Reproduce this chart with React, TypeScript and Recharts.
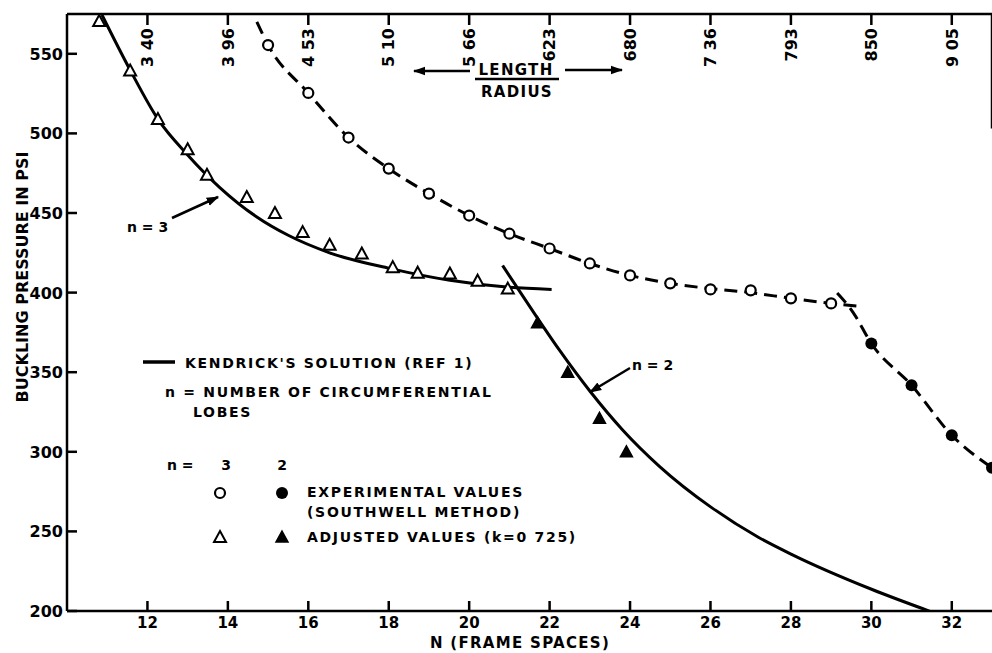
import React from 'react';
import { ComposedChart, Line, Scatter, XAxis, YAxis, ReferenceLine } from 'recharts';

const xTicks = [12, 14, 16, 18, 20, 22, 24, 26, 28, 30, 32];
const yTicks = [200, 250, 300, 350, 400, 450, 500, 550];
const lengthRadiusLabels = ['3 40', '3 96', '4 53', '5 10', '5 66', '623', '680', '7 36', '793', '850', '9 05'];

// Kendrick's solution, n = 3 (solid)
const kendrickN3 = [
  { x: 10.87, y: 574.4 }, { x: 11.57, y: 539.8 }, { x: 12.26, y: 509 }, { x: 13.0, y: 486.5 },
  { x: 13.8, y: 466 }, { x: 14.72, y: 447.5 }, { x: 15.5, y: 436 }, { x: 16.53, y: 425 },
  { x: 18.02, y: 415.2 }, { x: 19.52, y: 407.7 }, { x: 21.0, y: 403.3 }, { x: 22.05, y: 402 },
];
// Kendrick's solution, n = 2 (solid)
const kendrickN2 = [
  { x: 20.83, y: 417 }, { x: 21.5, y: 391.5 }, { x: 22.25, y: 363.7 }, { x: 23.0, y: 338.2 },
  { x: 23.81, y: 313.9 }, { x: 24.73, y: 290.9 }, { x: 26.02, y: 265.1 }, { x: 27.2, y: 246.2 },
  { x: 28.04, y: 235.3 }, { x: 30.02, y: 213.5 }, { x: 31.49, y: 199.5 },
];
// Experimental values n = 3 (open circles) and dashed fit
const expN3Points = [
  { x: 15, y: 555.5 }, { x: 16, y: 525.4 }, { x: 17, y: 497.4 }, { x: 18, y: 477.9 },
  { x: 19, y: 462.2 }, { x: 20, y: 448.4 }, { x: 21, y: 437 }, { x: 22, y: 427.7 },
  { x: 23, y: 418.3 }, { x: 24, y: 410.8 }, { x: 25, y: 405.8 }, { x: 26, y: 402 },
  { x: 27, y: 401.4 }, { x: 28, y: 396.4 }, { x: 29, y: 393.2 },
];
const expN3Line = [
  { x: 14.72, y: 570 }, { x: 15, y: 555.5 }, { x: 16, y: 525.4 }, { x: 17, y: 497.4 },
  { x: 18, y: 477.9 }, { x: 19, y: 462.2 }, { x: 20, y: 448.4 }, { x: 21, y: 437 },
  { x: 22, y: 427.7 }, { x: 23, y: 418.3 }, { x: 24, y: 410.8 }, { x: 25, y: 405.8 },
  { x: 26, y: 402.5 }, { x: 27, y: 400 }, { x: 28, y: 396.4 }, { x: 29, y: 393.2 },
  { x: 29.64, y: 391.6 },
];
// Experimental values n = 2 (filled circles) and dashed fit
const expN2Points = [
  { x: 30, y: 368 }, { x: 31, y: 341.8 }, { x: 32, y: 310.4 }, { x: 33, y: 290 },
];
const expN2Line = [
  { x: 29.15, y: 399.7 }, { x: 29.54, y: 387.8 }, { x: 30, y: 368 }, { x: 31, y: 341.8 },
  { x: 32, y: 310.4 }, { x: 33, y: 290 },
];
// Adjusted values (k = 0.725)
const adjN3 = [
  { x: 10.8, y: 570.6 }, { x: 11.57, y: 539.5 }, { x: 12.26, y: 509 }, { x: 13.0, y: 490 },
  { x: 13.48, y: 474 }, { x: 14.47, y: 460 }, { x: 15.17, y: 450 }, { x: 15.86, y: 438 },
  { x: 16.53, y: 430 }, { x: 17.33, y: 424.5 }, { x: 18.1, y: 416 }, { x: 18.72, y: 412.5 },
  { x: 19.52, y: 412 }, { x: 20.21, y: 407.5 }, { x: 20.96, y: 402.5 },
];
const adjN2 = [
  { x: 21.7, y: 381 }, { x: 22.45, y: 350 }, { x: 23.24, y: 321 }, { x: 23.91, y: 300 },
];
const rightBorder = [{ x: 33, y: 575 }, { x: 33, y: 503 }];

const FONT = '"DejaVu Sans", Verdana, sans-serif';
const INK = '#000';

const LeftTick = (p: any) => (
  <g>
    <line x1={p.x} y1={p.y} x2={p.x + 10} y2={p.y} stroke={INK} strokeWidth={2.5} />
    <text x={p.x - 4} y={p.y} dy={6} textAnchor="end" fontFamily={FONT} fontWeight="bold" fontSize={16} fill={INK}>
      {p.payload.value}
    </text>
  </g>
);

const BottomTick = (p: any) => (
  <g>
    <line x1={p.x} y1={p.y} x2={p.x} y2={p.y - 10} stroke={INK} strokeWidth={2.5} />
    <text x={p.x} y={p.y + 17} textAnchor="middle" fontFamily={FONT} fontWeight="bold" fontSize={15} fill={INK}>
      {p.payload.value}
    </text>
  </g>
);

const TopTick = (p: any) => {
  const label = lengthRadiusLabels[xTicks.indexOf(p.payload.value)];
  const ay = p.y + 14;
  return (
    <g>
      <line x1={p.x} y1={p.y} x2={p.x} y2={p.y + 11} stroke={INK} strokeWidth={2.5} />
      <text x={p.x} y={ay} dy="0.36em" transform={`rotate(-90 ${p.x} ${ay})`} textAnchor="end"
        fontFamily={FONT} fontWeight="bold" fontSize={16} fill={INK}>
        {label}
      </text>
    </g>
  );
};

const OpenCircle = (p: any) => <circle cx={p.cx} cy={p.cy} r={5} fill="#fff" stroke={INK} strokeWidth={2.2} />;
const FilledCircle = (p: any) => <circle cx={p.cx} cy={p.cy} r={6} fill={INK} />;
const triPath = (cx: number, cy: number) => `M${cx},${cy - 6} L${cx + 6},${cy + 5} L${cx - 6},${cy + 5} Z`;
const OpenTri = (p: any) => <path d={triPath(p.cx, p.cy)} fill="#fff" stroke={INK} strokeWidth={2} />;
const FilledTri = (p: any) => <path d={triPath(p.cx, p.cy)} fill={INK} stroke={INK} strokeWidth={1.5} />;

const txt = { fontFamily: FONT, fontWeight: 'bold' as const, fill: INK };

export default function App() {
  return (
    <div style={{ position: 'relative', width: 992, height: 653, overflow: 'hidden', background: '#fff' }}>
      <style>{'body{margin:0;background:#fff;}'}</style>
      <ComposedChart width={992} height={653} margin={{ top: 0, right: 0, bottom: 0, left: 0 }}>
        <XAxis xAxisId={0} dataKey="x" type="number" domain={[10, 33]} allowDataOverflow ticks={xTicks} interval={0}
          orientation="bottom" height={42} tickSize={0} tickMargin={0} tick={<BottomTick />}
          axisLine={{ stroke: INK, strokeWidth: 2.5 }} tickLine={false} />
        <XAxis xAxisId="lr" dataKey="x" type="number" domain={[10, 33]} allowDataOverflow ticks={xTicks} interval={0}
          orientation="top" height={14} tickSize={0} tickMargin={0} tick={<TopTick />}
          axisLine={{ stroke: INK, strokeWidth: 2.5 }} tickLine={false} />
        <YAxis dataKey="y" type="number" domain={[200, 575]} allowDataOverflow ticks={yTicks} interval={0}
          width={67} tickSize={0} tickMargin={0} tick={<LeftTick />}
          axisLine={{ stroke: INK, strokeWidth: 2.5 }} tickLine={false} />
        <ReferenceLine segment={rightBorder} stroke={INK} strokeWidth={2.5} ifOverflow="visible" />

        <Line data={kendrickN3} dataKey="y" type="monotone" stroke={INK} strokeWidth={3} dot={false} activeDot={false} isAnimationActive={false} />
        <Line data={kendrickN2} dataKey="y" type="monotone" stroke={INK} strokeWidth={3} dot={false} activeDot={false} isAnimationActive={false} />
        <Line data={expN3Line} dataKey="y" type="monotone" stroke={INK} strokeWidth={3} strokeDasharray="13 7" dot={false} activeDot={false} isAnimationActive={false} />
        <Line data={expN2Line} dataKey="y" type="monotone" stroke={INK} strokeWidth={3} strokeDasharray="13 7" dot={false} activeDot={false} isAnimationActive={false} />

        <Scatter data={adjN3} dataKey="y" shape={<OpenTri />} isAnimationActive={false} />
        <Scatter data={adjN2} dataKey="y" shape={<FilledTri />} isAnimationActive={false} />
        <Scatter data={expN3Points} dataKey="y" shape={<OpenCircle />} isAnimationActive={false} />
        <Scatter data={expN2Points} dataKey="y" shape={<FilledCircle />} isAnimationActive={false} />
      </ComposedChart>

      <svg width={992} height={653} style={{ position: 'absolute', left: 0, top: 0, pointerEvents: 'none' }}>
        <defs>
          <marker id="ah" viewBox="0 0 10 10" refX="9" refY="5" markerWidth="5" markerHeight="5" orient="auto">
            <path d="M0,1.5 L10,5 L0,8.5 Z" fill={INK} />
          </marker>
        </defs>
        {/* axis titles */}
        <text x={22} y={277} dy="0.36em" transform="rotate(-90 22 277)" textAnchor="middle" fontSize={16} {...txt}>
          BUCKLING PRESSURE IN PSI
        </text>
        <text x={520} y={648} textAnchor="middle" fontSize={15} letterSpacing={1.3} {...txt}>N (FRAME SPACES)</text>

        {/* length / radius */}
        <text x={516} y={75} textAnchor="middle" fontSize={15} letterSpacing={1.3} {...txt}>LENGTH</text>
        <line x1={475} y1={79} x2={559} y2={79} stroke={INK} strokeWidth={2.5} />
        <text x={517} y={97} textAnchor="middle" fontSize={15} letterSpacing={1.3} {...txt}>RADIUS</text>
        <line x1={470} y1={71} x2={414} y2={71} stroke={INK} strokeWidth={2.5} markerEnd="url(#ah)" />
        <line x1={565} y1={70} x2={622} y2={70} stroke={INK} strokeWidth={2.5} markerEnd="url(#ah)" />

        {/* n = 3 / n = 2 annotations */}
        <text x={127} y={232} fontSize={14} {...txt}>n = 3</text>
        <line x1={172} y1={218} x2={218} y2={197} stroke={INK} strokeWidth={2.5} markerEnd="url(#ah)" />
        <text x={632} y={370} fontSize={14} {...txt}>n = 2</text>
        <line x1={630} y1={368} x2={590} y2={392} stroke={INK} strokeWidth={2.5} markerEnd="url(#ah)" />

        {/* legend */}
        <line x1={143} y1={362} x2={175} y2={362} stroke={INK} strokeWidth={3.5} />
        <text x={185} y={368} fontSize={14} letterSpacing={1.7} {...txt}>KENDRICK'S SOLUTION (REF 1)</text>
        <text x={165} y={397} fontSize={14} letterSpacing={1.7} {...txt}>n = NUMBER OF CIRCUMFERENTIAL</text>
        <text x={193} y={417} fontSize={14} letterSpacing={1.7} {...txt}>LOBES</text>
        <text x={167} y={470} fontSize={14} {...txt}>n =</text>
        <text x={226} y={470} textAnchor="middle" fontSize={14} {...txt}>3</text>
        <text x={282} y={470} textAnchor="middle" fontSize={14} {...txt}>2</text>
        <circle cx={220} cy={493} r={5} fill="#fff" stroke={INK} strokeWidth={2.2} />
        <circle cx={282} cy={493} r={6} fill={INK} />
        <text x={307} y={497} fontSize={14} letterSpacing={1.7} {...txt}>EXPERIMENTAL VALUES</text>
        <text x={307} y={517} fontSize={14} letterSpacing={1.7} {...txt}>(SOUTHWELL METHOD)</text>
        <path d={triPath(220, 537)} fill="#fff" stroke={INK} strokeWidth={2} />
        <path d={triPath(282, 537)} fill={INK} stroke={INK} strokeWidth={1.5} />
        <text x={307} y={542} fontSize={14} letterSpacing={1.7} {...txt}>ADJUSTED VALUES (k=0 725)</text>
      </svg>
    </div>
  );
}
